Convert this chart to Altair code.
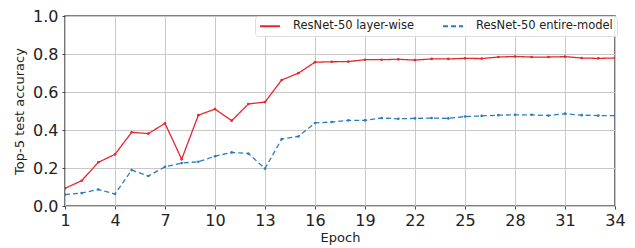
import altair as alt
import pandas as pd

epochs = list(range(1, 35))
layer_wise = [0.093, 0.133, 0.230, 0.272, 0.388, 0.381, 0.435, 0.246, 0.478, 0.510,
              0.449, 0.537, 0.547, 0.663, 0.699, 0.757, 0.759, 0.760, 0.770, 0.770,
              0.772, 0.768, 0.774, 0.774, 0.777, 0.776, 0.784, 0.787, 0.784, 0.784,
              0.786, 0.779, 0.777, 0.779]
entire_model = [0.060, 0.068, 0.087, 0.063, 0.189, 0.158, 0.206, 0.226, 0.233, 0.262,
                0.282, 0.276, 0.197, 0.352, 0.366, 0.437, 0.442, 0.451, 0.451, 0.463,
                0.459, 0.461, 0.463, 0.461, 0.471, 0.474, 0.478, 0.480, 0.480, 0.476,
                0.486, 0.478, 0.476, 0.476]
series_names = ["ResNet-50 layer-wise", "ResNet-50 entire-model"]
x_ticks = list(range(1, 35, 3))
y_ticks = [0.0, 0.2, 0.4, 0.6, 0.8, 1.0]

rows = []
for e, a, b in zip(epochs, layer_wise, entire_model):
    rows.append({"Epoch": e, "acc": a, "series": series_names[0]})
    rows.append({"Epoch": e, "acc": b, "series": series_names[1]})
df = pd.DataFrame(rows)

colors = ["#e5262d", "#2b7bc0"]
font = "DejaVu Sans"

legend = alt.Legend(title=None, orient="none", legendX=190, legendY=0,
                    direction="horizontal", symbolType="M-1,0H3",
                    symbolStrokeWidth=1.8, symbolSize=100,
                    labelOffset=22, labelFont=font, labelFontSize=11.5,
                    labelColor="#222", columnPadding=24, padding=4,
                    fillColor="rgba(255,255,255,0.85)",
                    strokeColor="#dddddd", cornerRadius=3)

chart = alt.Chart(df).mark_line(
    strokeWidth=1.3,
    clip=True,
    point=alt.OverlayMarkDef(size=7, filled=True),
).encode(
    x=alt.X("Epoch:Q",
            scale=alt.Scale(domain=[1, 34], nice=False, zero=False),
            axis=alt.Axis(values=x_ticks, title="Epoch", labelFlush=False)),
    y=alt.Y("acc:Q",
            scale=alt.Scale(domain=[0, 1], nice=False),
            axis=alt.Axis(values=y_ticks, format=".1f", title="Top-5 test accuracy")),
    color=alt.Color("series:N",
                    scale=alt.Scale(domain=series_names, range=colors),
                    legend=legend),
    strokeDash=alt.StrokeDash("series:N",
                              scale=alt.Scale(domain=series_names, range=[[1, 0], [5, 3]]),
                              legend=legend),
).properties(
    width=550,
    height=190,
    autosize=alt.AutoSizeParams(type="none"),
    padding={"left": 57, "top": 8, "right": 12, "bottom": 42},
).configure_axis(
    grid=True,
    gridColor="#c8c8c8",
    gridWidth=1,
    domain=False,
    tickSize=3,
    tickColor="#444",
    labelFont=font,
    labelFontSize=16,
    labelColor="#222",
    titleFont=font,
    titleFontSize=13,
    titleFontWeight="normal",
    titleColor="#222",
).configure_axisX(
    labelPadding=3,
    titlePadding=3,
).configure_axisY(
    labelPadding=4,
    titlePadding=6,
).configure_view(
    stroke="#555555",
    strokeWidth=1.6,
)

chart.save("out.html", embed_options={"renderer": "svg", "actions": False})
